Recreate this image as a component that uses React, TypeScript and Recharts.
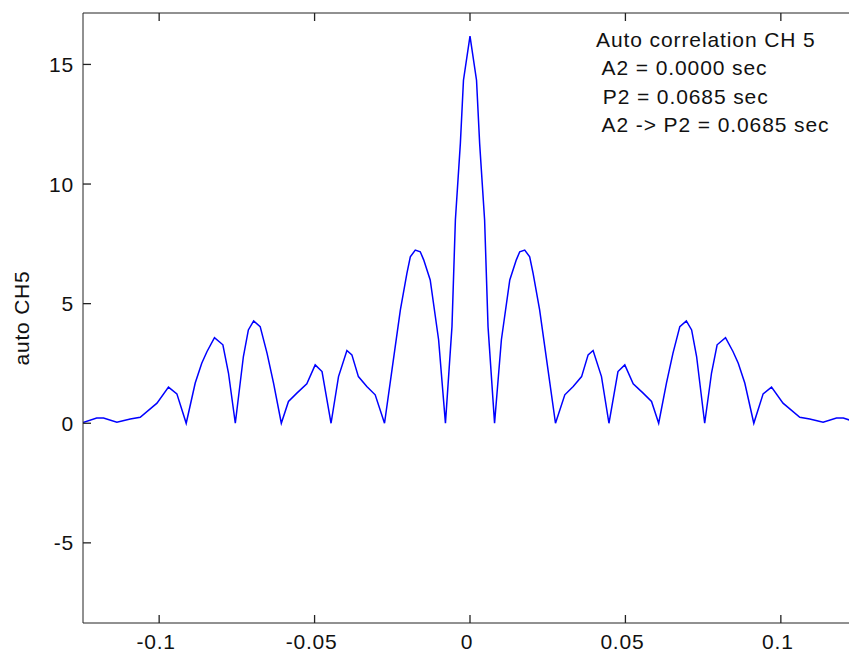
import { LineChart, Line, XAxis, YAxis } from 'recharts'

// lag (sec) and autocorrelation of channel 5
const lags = [
  -0.1245, -0.1201, -0.1179, -0.1136, -0.1093, -0.1061, -0.1007, -0.097, -0.0943, -0.0913,
  -0.0884, -0.0863, -0.0846, -0.0822, -0.0795, -0.0777, -0.0755, -0.0729, -0.0713, -0.0696,
  -0.0675, -0.0653, -0.0632, -0.0607, -0.0584, -0.0557, -0.0525, -0.0498, -0.0476, -0.0447,
  -0.0423, -0.0396, -0.038, -0.0359, -0.0332, -0.0305, -0.0275, -0.0251, -0.0224, -0.0203,
  -0.0192, -0.0176, -0.016, -0.0149, -0.0128, -0.0101, -0.0079, -0.0058, -0.0047, -0.0031,
  -0.0021, 0,
  0.0021, 0.0031, 0.0047, 0.0058, 0.0079, 0.0101, 0.0128, 0.0149, 0.016, 0.0176,
  0.0192, 0.0203, 0.0224, 0.0251, 0.0275, 0.0305, 0.0332, 0.0359, 0.038, 0.0396,
  0.0423, 0.0447, 0.0476, 0.0498, 0.0525, 0.0557, 0.0584, 0.0607, 0.0632, 0.0653,
  0.0675, 0.0696, 0.0713, 0.0729, 0.0755, 0.0777, 0.0795, 0.0822, 0.0846, 0.0863,
  0.0884, 0.0913, 0.0943, 0.097, 0.1007, 0.1061, 0.1093, 0.1136, 0.1179, 0.1201,
  0.1245,
]

const autoCH5 = [
  0.03, 0.22, 0.22, 0.04, 0.18, 0.25, 0.84, 1.51, 1.23, 0.0,
  1.68, 2.51, 3.0, 3.58, 3.28, 2.1, 0.0, 2.79, 3.9, 4.28,
  4.04, 2.93, 1.68, 0.0, 0.91, 1.26, 1.65, 2.44, 2.16, 0.0,
  1.95, 3.04, 2.86, 1.95, 1.54, 1.19, 0.0, 2.23, 4.74, 6.27,
  6.96, 7.24, 7.17, 6.83, 5.99, 3.49, 0.0, 4.04, 8.5, 11.7,
  14.34, 16.18,
  14.34, 11.7, 8.5, 4.04, 0.0, 3.49, 5.99, 6.83, 7.17, 7.24,
  6.96, 6.27, 4.74, 2.23, 0.0, 1.19, 1.54, 1.95, 2.86, 3.04,
  1.95, 0.0, 2.16, 2.44, 1.65, 1.26, 0.91, 0.0, 1.68, 2.93,
  4.04, 4.28, 3.9, 2.79, 0.0, 2.1, 3.28, 3.58, 3.0, 2.51,
  1.68, 0.0, 1.23, 1.51, 0.84, 0.25, 0.18, 0.04, 0.22, 0.22,
  0.03,
]

const xTicks = [-0.1, -0.05, 0, 0.05, 0.1]
const yTicks = [-5, 0, 5, 10, 15]

const infoLines = [
  'Auto correlation CH 5',
  ' A2 = 0.0000 sec',
  ' P2 = 0.0685 sec',
  ' A2 -> P2 = 0.0685 sec',
]

const data = lags.map((lag, i) => ({ lag, value: autoCH5[i] }))

const font = '"Liberation Sans", Arial, sans-serif'
const axisColor = '#222'
const textColor = '#111'
const tickLen = 8

// matlab style: tick marks point into the axes box
const BottomTick = ({ x, y, payload }: any) => (
  <g>
    <path d={`M${x},${y}v${-tickLen}`} stroke={axisColor} strokeWidth={1.3} fill="none" />
    <text x={x - 3} y={y + 10} dy="0.75em" textAnchor="middle" fontSize={21} fontFamily={font} fill={textColor} letterSpacing={0.8}>
      {String(payload.value)}
    </text>
  </g>
)

const TopTick = ({ x, y }: any) => (
  <path d={`M${x},${y}v${tickLen}`} stroke={axisColor} strokeWidth={1.3} fill="none" />
)

const LeftTick = ({ x, y, payload }: any) => (
  <g>
    <path d={`M${x},${y}h${tickLen}`} stroke={axisColor} strokeWidth={1.3} fill="none" />
    <text x={x - 9} y={y} dy="0.36em" textAnchor="end" fontSize={21} fontFamily={font} fill={textColor} letterSpacing={0.8}>
      {String(payload.value)}
    </text>
  </g>
)

export default function App() {
  return (
    <div style={{ position: 'absolute', left: 0, top: 0, width: 849, height: 657, overflow: 'hidden', background: '#fff' }}>
      <LineChart width={860} height={657} data={data} margin={{ top: 0, right: 3, bottom: 0, left: 0 }}>
        <XAxis
          dataKey="lag"
          type="number"
          domain={[-0.1245, 0.1245]}
          ticks={xTicks}
          allowDataOverflow
          height={34}
          tickSize={0}
          tickMargin={0}
          tickLine={false}
          stroke={axisColor}
          tick={BottomTick}
        />
        <XAxis
          xAxisId="top"
          orientation="top"
          dataKey="lag"
          type="number"
          domain={[-0.1245, 0.1245]}
          ticks={xTicks}
          allowDataOverflow
          height={13}
          tickSize={0}
          tickMargin={0}
          tickLine={false}
          stroke={axisColor}
          tick={TopTick}
        />
        <YAxis
          type="number"
          domain={[-8.35, 17.15]}
          ticks={yTicks}
          allowDataOverflow
          width={83}
          tickSize={0}
          tickMargin={0}
          tickLine={false}
          stroke={axisColor}
          tick={LeftTick}
          label={{
            value: 'auto CH5',
            angle: -90,
            position: 'center',
            dx: -20,
            style: { fontSize: 21, fontFamily: font, fill: textColor, letterSpacing: 0.8, textAnchor: 'middle' },
          }}
        />
        <Line
          type="linear"
          dataKey="value"
          stroke="#0000ff"
          strokeWidth={1.5}
          dot={false}
          isAnimationActive={false}
        />
      </LineChart>
      <svg width={849} height={657} style={{ position: 'absolute', left: 0, top: 0, pointerEvents: 'none' }}>
        {infoLines.map((line, i) => (
          <text
            key={i}
            x={596}
            y={47 + i * 28.3}
            fontSize={21}
            fontFamily={font}
            fill={textColor}
            letterSpacing={0.9}
            style={{ whiteSpace: 'pre' }}
          >
            {line}
          </text>
        ))}
      </svg>
    </div>
  )
}
